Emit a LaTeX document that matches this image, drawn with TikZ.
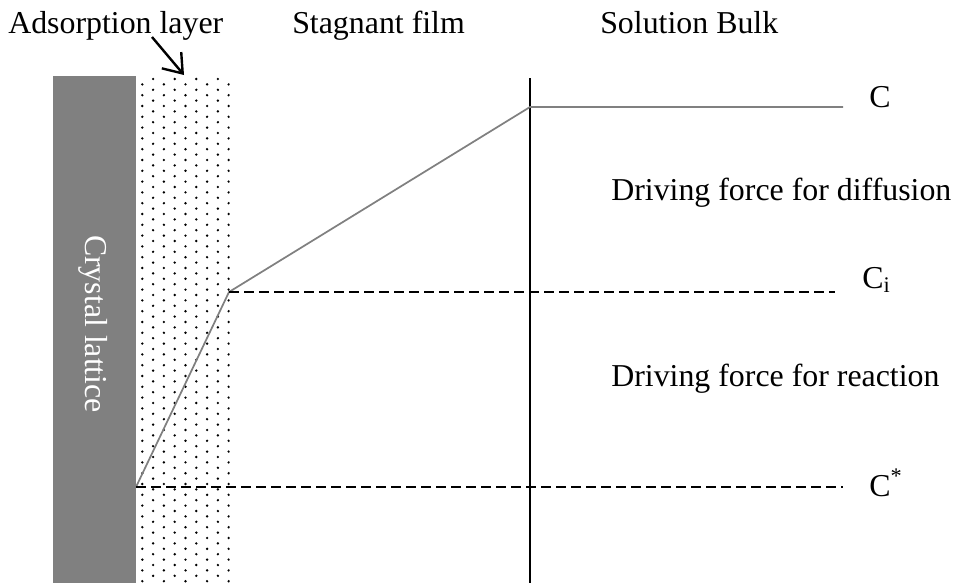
\documentclass[tikz,border=0pt]{standalone}
\usepackage{fontspec}
\setmainfont{Liberation Serif}
\usetikzlibrary{arrows.meta}
\definecolor{lattgray}{RGB}{128,128,128}
\definecolor{linegray}{RGB}{128,128,128}
\begin{document}
\begin{tikzpicture}[x=0.75pt,y=-0.75pt,
  font=\fontsize{23.9}{28}\selectfont,
  lbl/.style={anchor=base west,inner sep=0pt},
  profile/.style={draw=linegray,line width=1.3pt},
  level/.style={draw=black,line width=1.4pt,dash pattern=on 7.5pt off 3.75pt},
  boundary/.style={draw=black,line width=1.3pt},
  pointer/.style={draw=black,line width=1.8pt,-{Straight Barb[length=13pt,width=19pt,line width=1.8pt]}}]
\useasboundingbox (0,0) rectangle (959,583);
% crystal lattice
\fill[lattgray] (53,76) rectangle (136,583);
\node[rotate=-90,text=white,inner sep=0pt] (lattice) at (93,324) {Crystal lattice};
% adsorption layer dots
\begin{scope}
\clip (136,76) rectangle (229.5,583);
\foreach \j in {0,...,93}{
  \pgfmathsetmacro\yy{79+5.4*\j}
  \pgfmathsetmacro\off{10.8*(1-mod(\j,2))}
  \foreach \k in {0,...,4}{
    \fill[black] (142.3+\off+21.6*\k,\yy) circle[radius=1pt];
  }
}
\end{scope}
% headings
\node[lbl] (adsorb) at (8,33) {Adsorption layer};
\node[lbl] (film) at (292,33) {Stagnant film};
\node[lbl] (bulk) at (600,33) {Solution Bulk};
\coordinate (as) at (152,37);
\coordinate (ae) at (184,75);
\draw[pointer] (as) -- (ae);
% boundary line
\coordinate (vt) at (530,78);
\coordinate (vb) at (530,583);
\draw[boundary] (vt) -- (vb);
% concentration profile
\coordinate (p0) at (136,487);
\coordinate (p1) at (229,292);
\coordinate (p2) at (530,107);
\coordinate (p3) at (843,107);
\draw[profile] (p0) -- (p1) -- (p2) -- (p3);
% levels
\coordinate (d1e) at (835,292);
\coordinate (d2e) at (843,487);
\draw[level] (p1) -- (d1e);
\draw[level] (p0) -- (d2e);
% labels
\node[lbl] (cl) at (869,107) {C};
\node[lbl] (ci) at (862,288) {C\textsubscript{i}};
\node[lbl] (cs) at (869,496) {C\textsuperscript{*}};
\node[lbl] (diff) at (611,200) {Driving force for diffusion};
\node[lbl] (react) at (611,386) {Driving force for reaction};
\end{tikzpicture}
\end{document}
